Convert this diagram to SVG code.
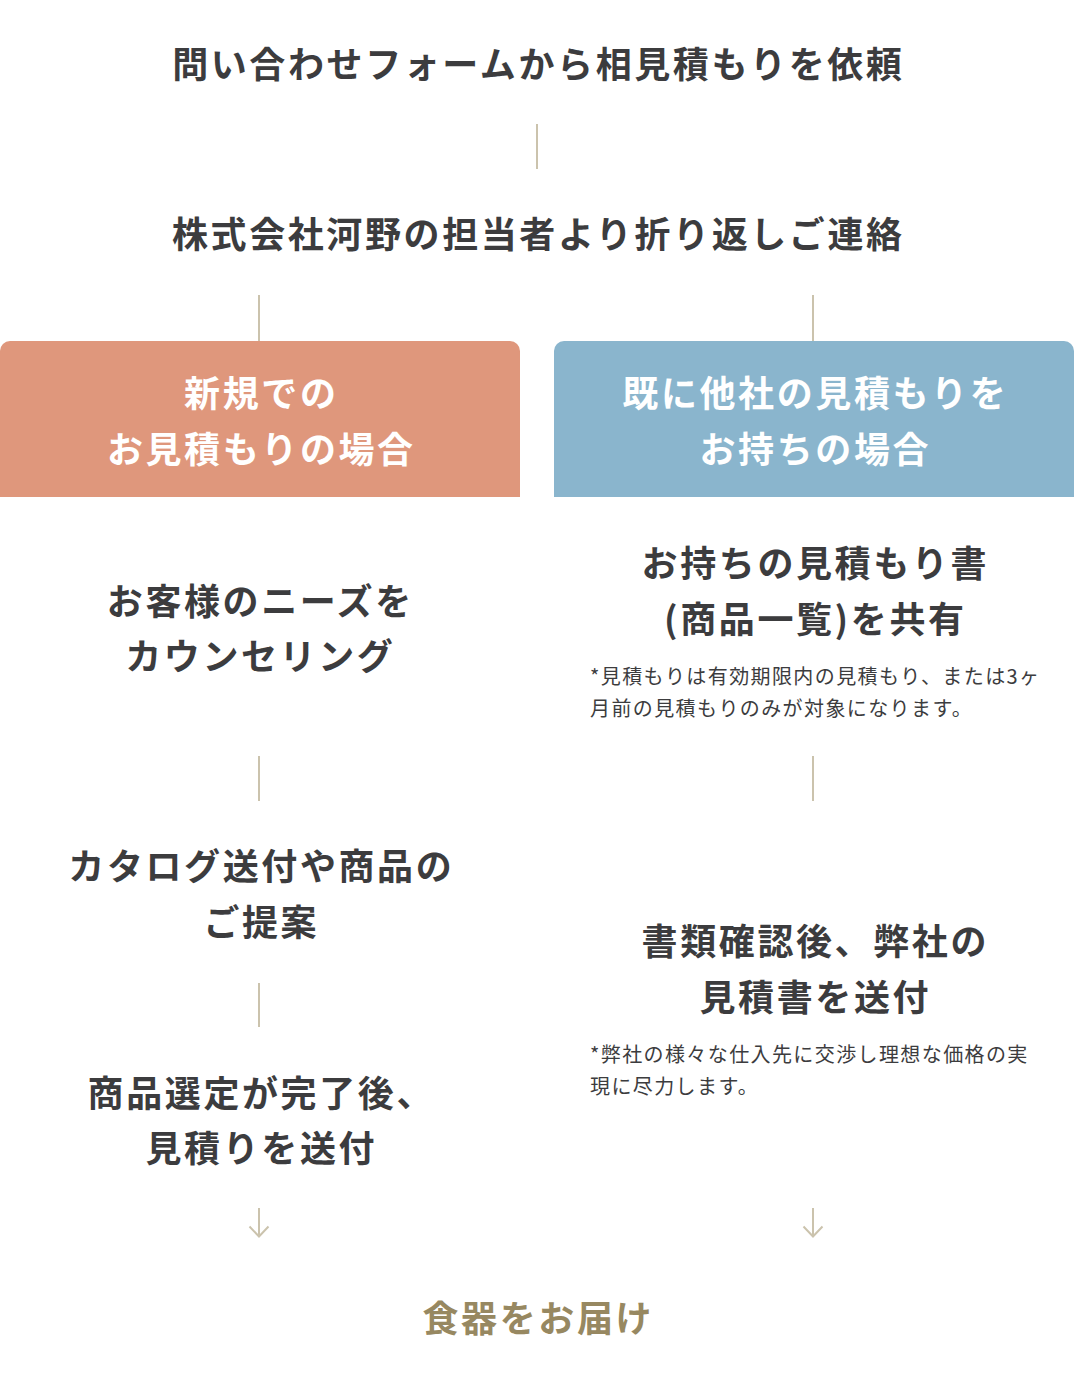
<svg xmlns="http://www.w3.org/2000/svg" width="1074" height="1379" viewBox="0 0 1074 1379">
  <style>
    .t { font-family: "Noto Sans CJK JP", "Noto Sans", sans-serif; font-weight: 700; font-size: 36px; letter-spacing: 2.6px; fill: #3c3c3e; text-anchor: middle; }
    .w { fill: #ffffff; }
    .g { fill: #978861; }
    .s { font-family: "Noto Sans CJK JP", "Noto Sans", sans-serif; font-weight: 400; font-size: 20px; letter-spacing: 1.4px; fill: #3c3c3e; }
    .c { stroke: #cbc3ad; stroke-width: 2; fill: none; }
  </style>
  <rect width="1074" height="1379" fill="#ffffff"/>

  <g id="connectors">
    <line class="c" x1="537" y1="124" x2="537" y2="169"/>
    <line class="c" x1="259" y1="295" x2="259" y2="341"/>
    <line class="c" x1="813" y1="295" x2="813" y2="341"/>
    <line class="c" x1="259" y1="756" x2="259" y2="801"/>
    <line class="c" x1="813" y1="756" x2="813" y2="801"/>
    <line class="c" x1="259" y1="983" x2="259" y2="1027"/>
    <path class="c" d="M259,1208 V1237 M249.5,1226.5 L259,1236.5 L268.5,1226.5"/>
    <path class="c" d="M813,1208 V1237 M803.5,1226.5 L813,1236.5 L822.5,1226.5"/>
  </g>

  <g id="node-inquiry">
    <text class="t" x="538.3" y="78">問い合わせフォームから相見積もりを依頼</text>
  </g>

  <g id="node-contact">
    <text class="t" x="538.3" y="248">株式会社河野の担当者より折り返しご連絡</text>
  </g>

  <g id="node-new">
    <path d="M0,351 A10,10 0 0 1 10,341 H510 A10,10 0 0 1 520,351 V497 H0 Z" fill="#df977c"/>
    <text class="t w" x="261.3" y="407">新規での</text>
    <text class="t w" x="261.3" y="463">お見積もりの場合</text>
  </g>

  <g id="node-existing">
    <path d="M554,351 A10,10 0 0 1 564,341 H1064 A10,10 0 0 1 1074,351 V497 H554 Z" fill="#8ab5cd"/>
    <text class="t w" x="815.3" y="407">既に他社の見積もりを</text>
    <text class="t w" x="815.3" y="463">お持ちの場合</text>
  </g>

  <g id="node-counseling">
    <text class="t" x="260.3" y="615">お客様のニーズを</text>
    <text class="t" x="260.3" y="670">カウンセリング</text>
  </g>

  <g id="node-share">
    <text class="t" x="815.3" y="577">お持ちの見積もり書</text>
    <text class="t" x="815.3" y="633">(商品一覧)を共有</text>
    <text class="s" x="590" y="684">*見積もりは有効期限内の見積もり、または3ヶ</text>
    <text class="s" x="590" y="716">月前の見積もりのみが対象になります。</text>
  </g>

  <g id="node-catalog">
    <text class="t" x="261.3" y="880">カタログ送付や商品の</text>
    <text class="t" x="261.3" y="936">ご提案</text>
  </g>

  <g id="node-review">
    <text class="t" x="815.3" y="955">書類確認後、弊社の</text>
    <text class="t" x="815.3" y="1011">見積書を送付</text>
    <text class="s" x="590" y="1062">*弊社の様々な仕入先に交渉し理想な価格の実</text>
    <text class="s" x="590" y="1094">現に尽力します。</text>
  </g>

  <g id="node-selection">
    <text class="t" x="261.3" y="1107">商品選定が完了後、</text>
    <text class="t" x="261.3" y="1162">見積りを送付</text>
  </g>

  <g id="node-delivery">
    <text class="t g" x="538.3" y="1332">食器をお届け</text>
  </g>
</svg>
